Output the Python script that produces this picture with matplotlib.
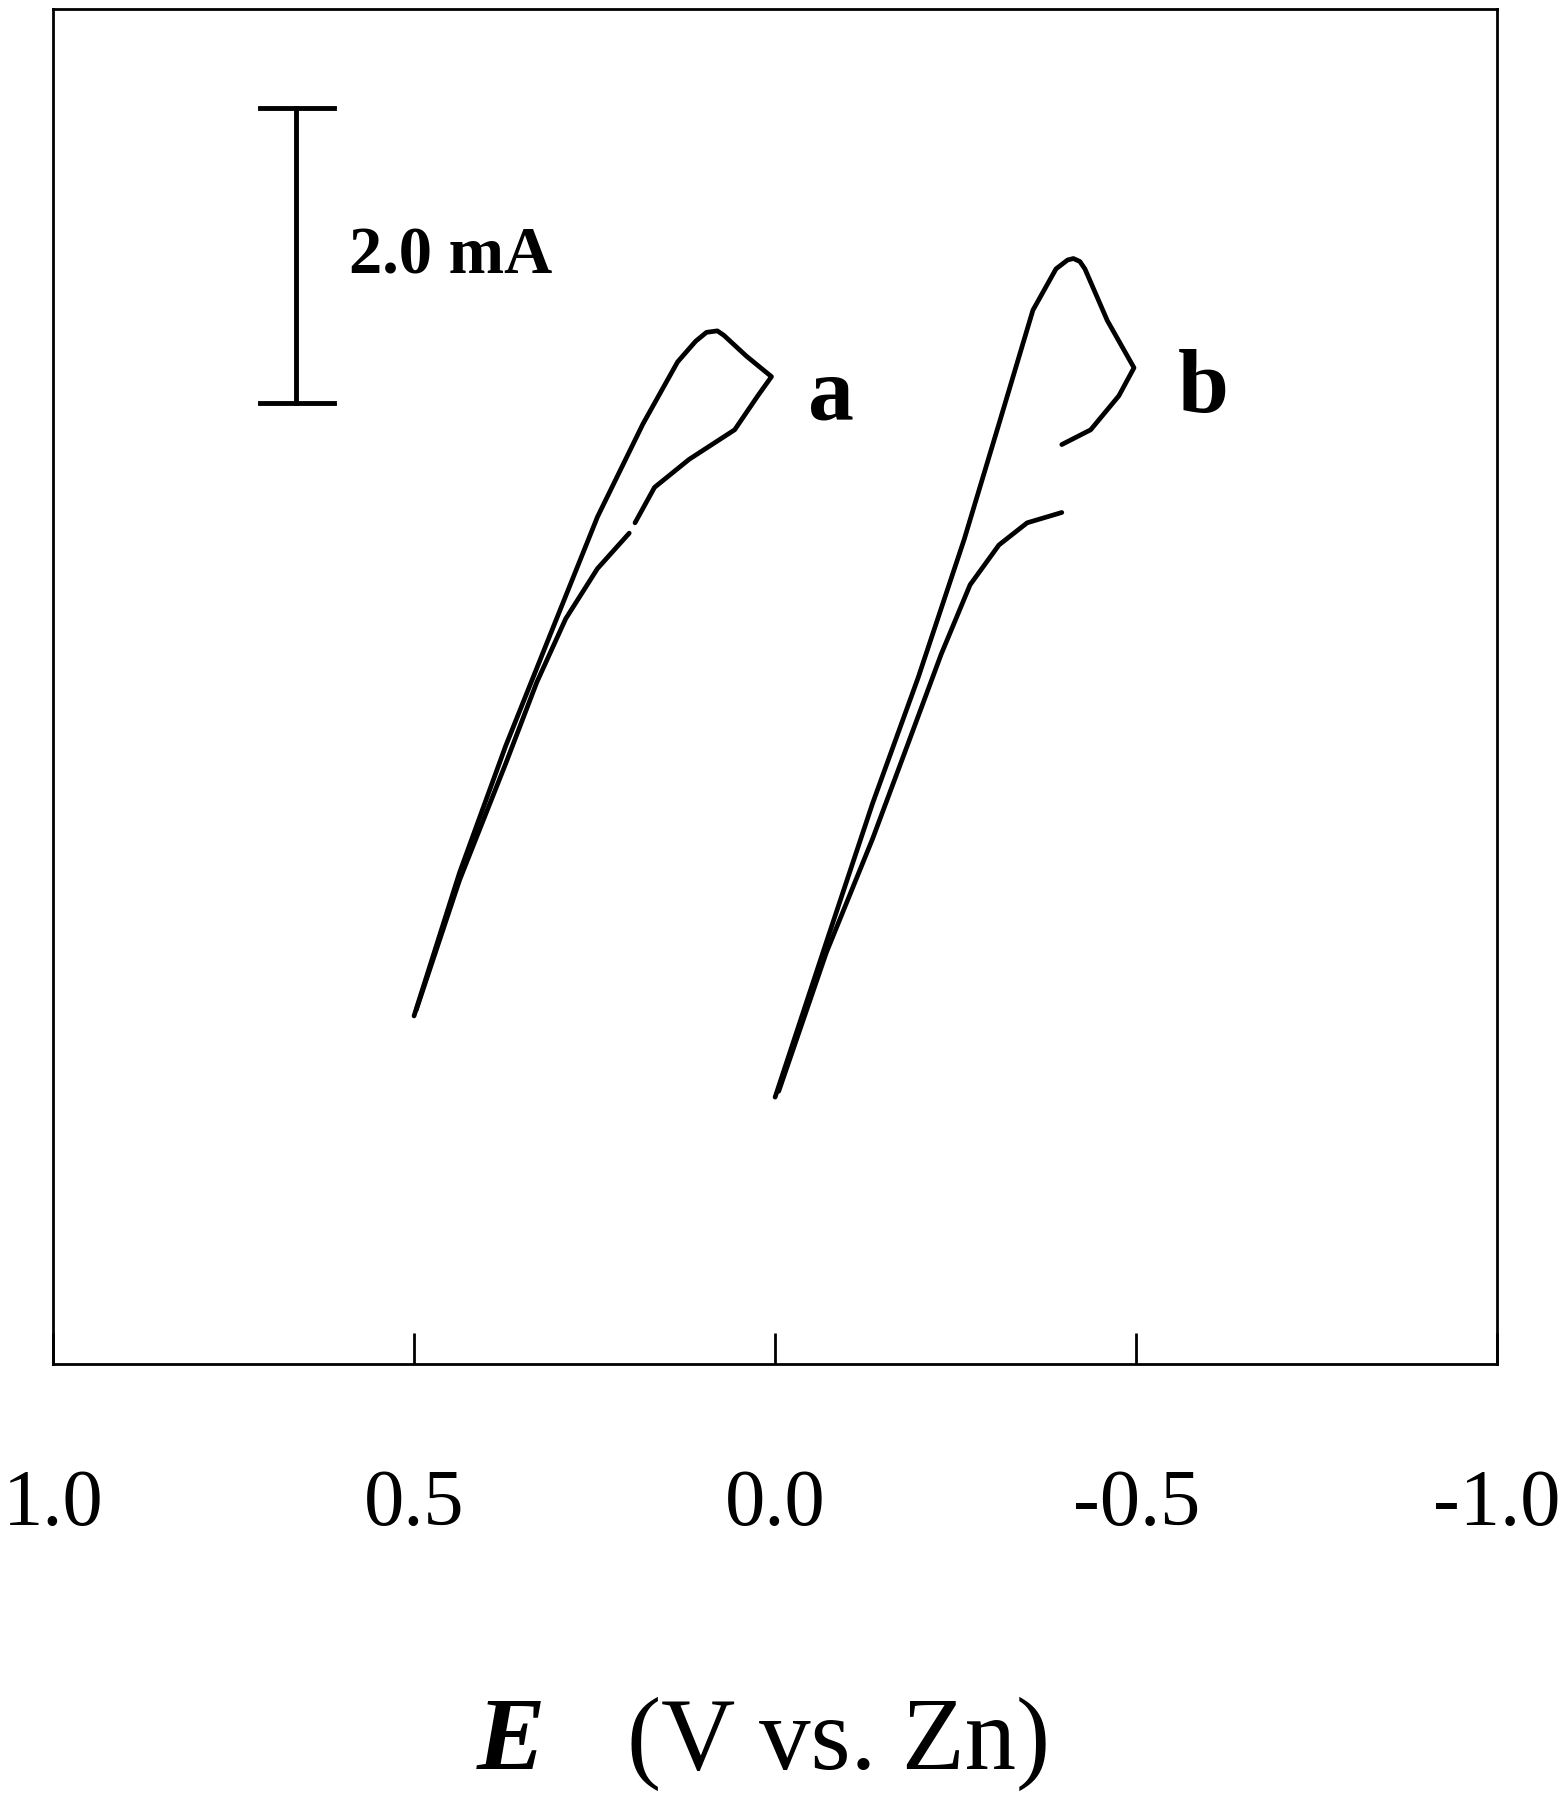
import matplotlib
matplotlib.use("Agg")
import matplotlib.pyplot as plt

plt.rcParams['font.family'] = ['Liberation Serif', 'DejaVu Serif']

# curve a (E in V vs Zn, I in mA)
a_fwd_E = [0.500, 0.437, 0.373, 0.310, 0.246, 0.183, 0.135, 0.110, 0.095, 0.080, 0.071, 0.040, 0.005, 0.024, 0.056, 0.119, 0.167, 0.194]
a_fwd_I = [2.36, 3.33, 4.19, 4.96, 5.74, 6.37, 6.79, 6.93, 6.99, 7.00, 6.97, 6.83, 6.69, 6.56, 6.33, 6.13, 5.94, 5.70]
a_low_E = [0.202, 0.246, 0.290, 0.330, 0.373, 0.437, 0.497]
a_low_I = [5.63, 5.39, 5.05, 4.62, 4.07, 3.28, 2.40]
# curve b
b_fwd_E = [0.000, -0.071, -0.135, -0.198, -0.262, -0.310, -0.357, -0.389, -0.405, -0.413, -0.422, -0.429, -0.460, -0.497, -0.476, -0.437, -0.397]
b_fwd_I = [1.81, 2.86, 3.80, 4.65, 5.59, 6.37, 7.14, 7.42, 7.48, 7.49, 7.47, 7.42, 7.07, 6.75, 6.56, 6.33, 6.23]
b_low_E = [-0.397, -0.349, -0.310, -0.270, -0.230, -0.183, -0.135, -0.071, -0.005]
b_low_I = [5.77, 5.70, 5.55, 5.28, 4.81, 4.19, 3.56, 2.79, 1.85]
xticks = [1.0, 0.5, 0.0, -0.5, -1.0]
xticklabels = ["1.0", "0.5", "0.0", "-0.5", "-1.0"]

fig = plt.figure(figsize=(15.58, 18), dpi=100)
ax = fig.add_axes([0.034, 0.242, 0.927, 0.753])
lw = 3.4
for E, I in [(a_fwd_E, a_fwd_I), (a_low_E, a_low_I), (b_fwd_E, b_fwd_I), (b_low_E, b_low_I)]:
    ax.plot(E, I, color='black', lw=lw, solid_capstyle='round', solid_joinstyle='round')

ax.set_xlim(1.0, -1.0)
ax.set_ylim(0, 9.18)
ax.set_yticks([])
ax.set_xticks(xticks)
ax.set_xticklabels(xticklabels, fontsize=58)
ax.tick_params(axis='x', direction='in', length=22, width=2, pad=75)
for s in ax.spines.values():
    s.set_linewidth(2)

# scale bar 2.0 mA
ax.plot([0.663, 0.663], [6.51, 8.51], color='black', lw=3.5)
ax.plot([0.714, 0.611], [6.51, 6.51], color='black', lw=3.5)
ax.plot([0.714, 0.611], [8.51, 8.51], color='black', lw=3.5)
ax.text(0.59, 7.50, "2.0 mA", fontsize=48, fontweight='bold', va='center', ha='left')
ax.text(-0.045, 6.55, "a", fontsize=66, fontweight='bold', va='center', ha='left')
ax.text(-0.558, 6.6, "b", fontsize=66, fontweight='bold', va='center', ha='left')

fig.text(0.328, 0.031, "E", fontsize=74, fontweight='bold', fontstyle='italic', ha='center', va='center')
fig.text(0.538, 0.031, "(V vs. Zn)", fontsize=74, ha='center', va='center')

fig.savefig("out.png", dpi=100)
